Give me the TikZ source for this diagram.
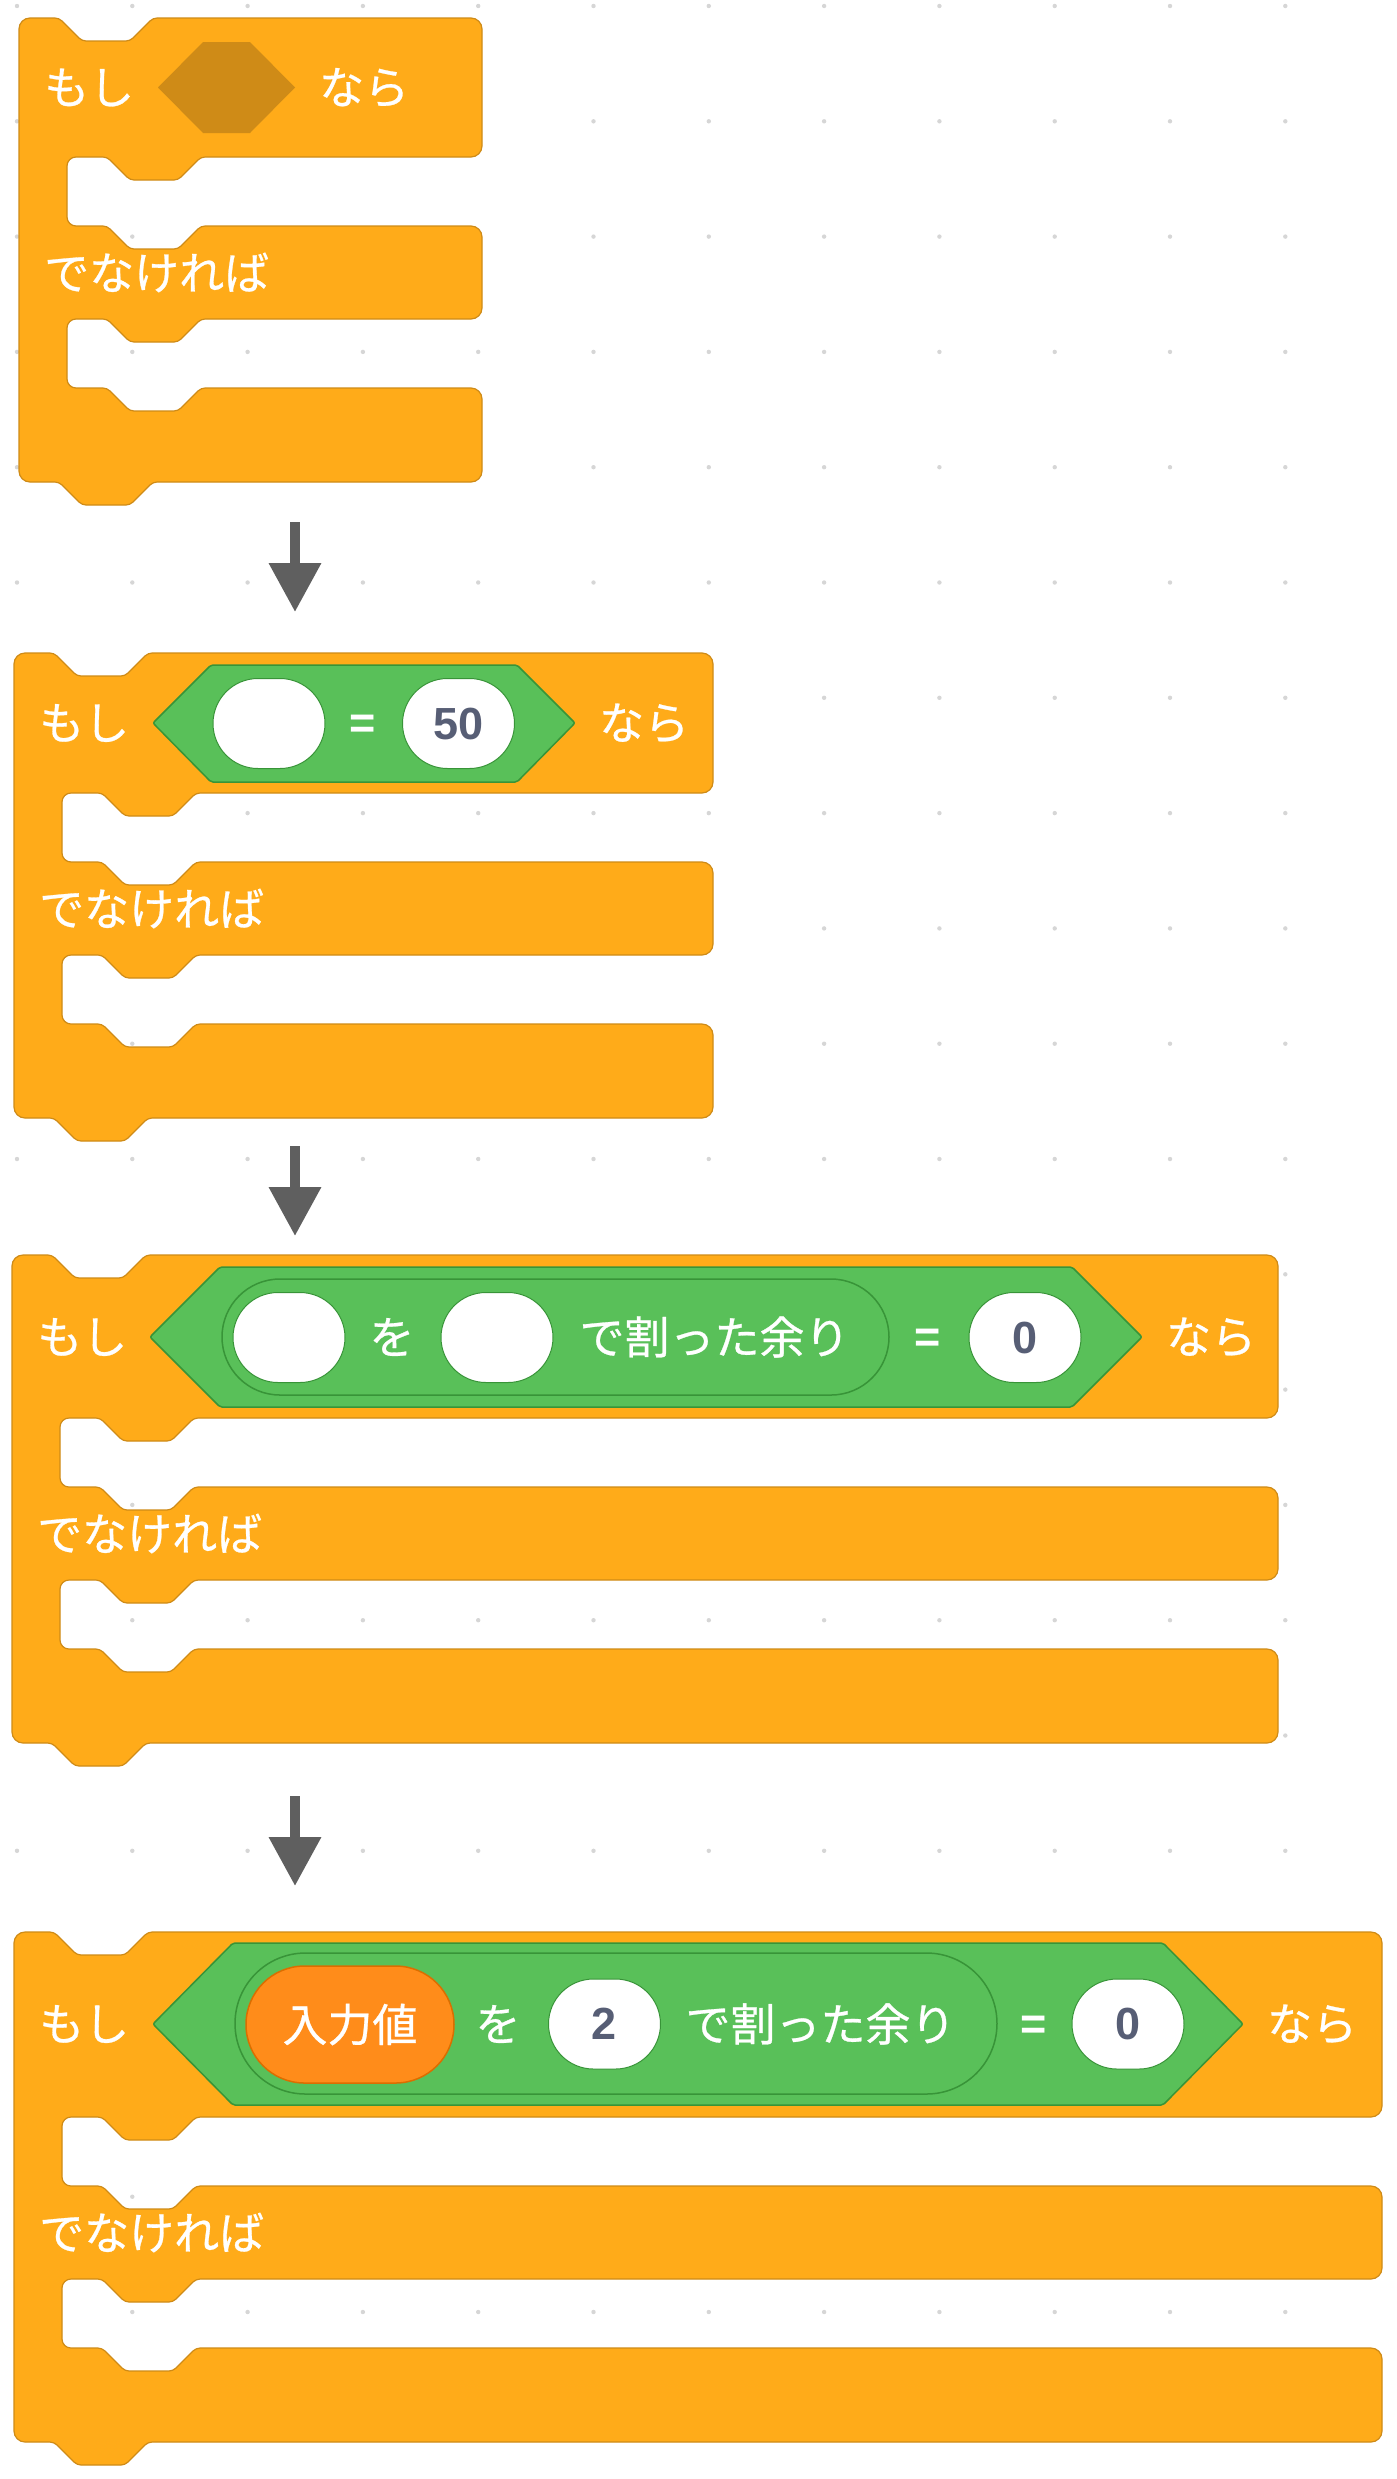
\documentclass[tikz,border=0pt]{standalone}
\usepackage{fontspec}
\newfontfamily\jpfont{Noto Sans CJK JP}[FakeBold=0.6]
\newfontfamily\numfont{Liberation Sans}
\usetikzlibrary{arrows.meta,shapes.misc}
\definecolor{ctrl}{HTML}{FFAB19}
\definecolor{ctrlline}{HTML}{CF8B17}
\definecolor{opgreen}{HTML}{59C059}
\definecolor{opline}{HTML}{389438}
\definecolor{varorange}{HTML}{FF8C1A}
\definecolor{varline}{HTML}{DB6E00}
\definecolor{numtext}{HTML}{575E75}
\definecolor{flowgrey}{HTML}{5F5F5F}
\newcommand{\ifelseshape}[4]{%
  \pgfmathsetmacro{\armx}{#1+48}%
  \pgfmathsetmacro{\gapa}{#4+69}%
  \pgfmathsetmacro{\elseb}{#4+162}%
  \pgfmathsetmacro{\gapb}{#4+231}%
  \pgfmathsetmacro{\botb}{#4+325}%
  \draw[cblock] (#1,#2+60) [rounded corners=11pt] -- (#1,#2) [rounded corners=4pt] -- (#1+40,#2) -- (#1+63,#2+23) -- (#1+111,#2+23) -- (#1+134,#2)
    [rounded corners=11pt] -- (#3,#2) -- (#3,#4) [rounded corners=4pt] -- (\armx+134,#4) -- (\armx+111,#4+23) -- (\armx+63,#4+23) -- (\armx+40,#4)
    [rounded corners=9pt] -- (\armx,#4) -- (\armx,\gapa) [rounded corners=4pt] -- (\armx+40,\gapa) -- (\armx+63,\gapa+23) -- (\armx+111,\gapa+23) -- (\armx+134,\gapa)
    [rounded corners=11pt] -- (#3,\gapa) -- (#3,\elseb) [rounded corners=4pt] -- (\armx+134,\elseb) -- (\armx+111,\elseb+23) -- (\armx+63,\elseb+23) -- (\armx+40,\elseb)
    [rounded corners=9pt] -- (\armx,\elseb) -- (\armx,\gapb) [rounded corners=4pt] -- (\armx+40,\gapb) -- (\armx+63,\gapb+23) -- (\armx+111,\gapb+23) -- (\armx+134,\gapb)
    [rounded corners=11pt] -- (#3,\gapb) -- (#3,\botb) [rounded corners=4pt] -- (#1+134,\botb) -- (#1+111,\botb+23) -- (#1+63,\botb+23) -- (#1+40,\botb)
    [rounded corners=11pt] -- (#1,\botb) -- cycle;%
}
\begin{document}
\begin{tikzpicture}[x=1pt,y=-1pt,
  cblock/.style={fill=ctrl,draw=ctrlline,line width=1.2pt},
  lbl/.style={text=white,font=\jpfont\fontsize{45}{54}\selectfont,inner sep=0pt},
  hexslot/.style={fill=opgreen,draw=opline,line width=1.5pt,rounded corners=2pt},
  pill/.style={rounded rectangle,fill=opgreen,draw=opline,line width=1.5pt,inner sep=0pt},
  numslot/.style={rounded rectangle,fill=white,draw=opline,line width=1pt,inner sep=0pt,
    minimum width=112pt,minimum height=90pt,text=numtext,font=\numfont\bfseries\fontsize{45}{54}\selectfont},
  eqsign/.style={text=white,font=\numfont\bfseries\fontsize{45}{54}\selectfont,inner sep=0pt,anchor=base},
  varpill/.style={rounded rectangle,fill=varorange,draw=varline,line width=1.5pt,inner sep=0pt,
    minimum width=208pt,minimum height=117pt},
  flow/.style={flowgrey,line width=10pt,-{Triangle[width=50pt,length=49pt]}},
  griddot/.style={fill=black!16}]
\fill[white] (0,0) rectangle (1397,2479);
\useasboundingbox (0,0) rectangle (1397,2479);
\foreach \i in {0,...,11}
  \foreach \j in {0,...,21}
    \fill[griddot] ({17+115.3*\i},{6+115.3*\j}) circle (2.2pt);
% block 1
\ifelseshape{19}{18}{482}{157}
\fill[ctrlline] (158,87.5) -- (203,42) -- (250,42) -- (295,87.5) -- (250,133) -- (203,133) -- cycle;
\node[lbl,anchor=west] (if1) at (44,87.5) {もし};
\node[lbl,anchor=west] (then1) at (319,87.5) {なら};
\node[lbl,anchor=west] (else1) at (44,272.5) {でなければ};
\coordinate (a1s) at (295,522);
\coordinate (a1e) at (295,612);
\draw[flow] (a1s) -- (a1e);
% block 2
\ifelseshape{14}{653}{713}{793}
\draw[hexslot] (153,723) -- (211,665) -- (517,665) -- (575,723) -- (517,782) -- (211,782) -- cycle;
\node[numslot] (in2a) at (269,723.5) {};
\node[eqsign] (eq2) at (363,738) {=};
\node[numslot] (in2b) at (458.5,723.5) {50};
\node[lbl,anchor=west] (if2) at (39,723) {もし};
\node[lbl,anchor=west] (then2) at (599,723) {なら};
\node[lbl,anchor=west] (else2) at (39,908.5) {でなければ};
\coordinate (a2s) at (295,1146);
\coordinate (a2e) at (295,1236);
\draw[flow] (a2s) -- (a2e);
% block 3
\ifelseshape{12}{1255}{1278}{1418}
\draw[hexslot] (150,1337) -- (220,1267) -- (1072,1267) -- (1142,1337) -- (1072,1407) -- (220,1407) -- cycle;
\node[pill,minimum width=667pt,minimum height=116pt] (mod3) at (555.5,1337) {};
\node[numslot] (in3a) at (289,1337.5) {};
\node[lbl] (wo3) at (392,1337) {を};
\node[numslot] (in3b) at (497,1337.5) {};
\node[lbl] (rem3) at (714.5,1337) {で割った余り};
\node[eqsign] (eq3) at (928,1352) {=};
\node[numslot] (in3c) at (1025,1337.5) {0};
\node[lbl,anchor=west] (if3) at (37,1337) {もし};
\node[lbl,anchor=west] (then3) at (1166,1337) {なら};
\node[lbl,anchor=west] (else3) at (37,1533.5) {でなければ};
\coordinate (a3s) at (295,1796);
\coordinate (a3e) at (295,1886);
\draw[flow] (a3s) -- (a3e);
% block 4
\ifelseshape{14}{1932}{1382}{2117}
\draw[hexslot] (153,2024) -- (233,1943) -- (1163,1943) -- (1243,2024) -- (1163,2105) -- (233,2105) -- cycle;
\node[pill,minimum width=762pt,minimum height=141pt] (mod4) at (616,2023.5) {};
\node[varpill] (var4) at (350,2024.5) {};
\node[lbl] (inval4) at (350,2024.5) {入力値};
\node[lbl] (wo4) at (498,2024) {を};
\node[numslot] (in4b) at (604.5,2024) {2};
\node[lbl] (rem4) at (820.5,2024) {で割った余り};
\node[eqsign] (eq4) at (1034,2039) {=};
\node[numslot] (in4c) at (1128,2024) {0};
\node[lbl,anchor=west] (if4) at (39,2024) {もし};
\node[lbl,anchor=west] (then4) at (1267,2024) {なら};
\node[lbl,anchor=west] (else4) at (39,2232.5) {でなければ};
\end{tikzpicture}
\end{document}
